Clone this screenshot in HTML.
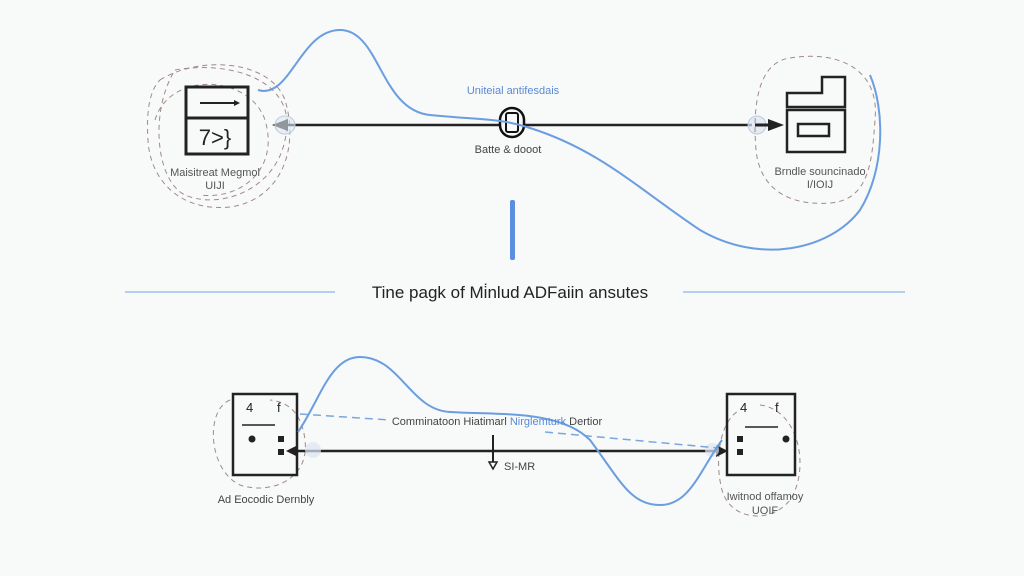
<!DOCTYPE html>
<html><head><meta charset="utf-8"><style>
html,body{margin:0;padding:0;background:#f8f9f9;}
svg{display:block;font-family:"Liberation Sans",sans-serif;}
</style></head><body>
<svg width="1024" height="576" viewBox="0 0 1024 576" xmlns="http://www.w3.org/2000/svg">
<rect width="1024" height="576" fill="#f8f9f9"/>
<!-- top left dashed loops -->
<g fill="none" stroke="#a08a88" stroke-width="1" stroke-dasharray="5,4">
<path d="M160,80 C200,55 270,60 285,100 C300,150 280,200 230,207 C180,212 150,180 148,140 C146,110 150,90 160,80Z"/>
<path d="M175,70 C230,60 300,80 285,140 C275,190 220,210 185,195 C155,180 150,110 175,70Z"/>
<path d="M155,120 C170,70 250,75 265,120 C280,170 240,200 200,195"/>
</g>
<!-- top left box -->
<rect x="186" y="87" width="62" height="67" fill="none" stroke="#222" stroke-width="3"/>
<line x1="186" y1="118" x2="248" y2="118" stroke="#222" stroke-width="3"/>
<line x1="200" y1="103" x2="238" y2="103" stroke="#222" stroke-width="2"/>
<path d="M234,100 L240,103 L234,106Z" fill="#222"/>
<text x="215" y="145" font-size="22" text-anchor="middle" fill="#222">7&gt;}</text>
<text x="215" y="176" font-size="11" text-anchor="middle" fill="#555">Maisitreat Megmol</text>
<text x="215" y="189" font-size="11" text-anchor="middle" fill="#555">UIJI</text>
<!-- top main line -->
<line x1="283" y1="125" x2="752" y2="125" stroke="#222" stroke-width="2.5"/>
<path d="M272,125 L288,119 L288,131Z" fill="#222"/>
<ellipse cx="285" cy="125" rx="10" ry="9" fill="#dde6f2" fill-opacity="0.6" stroke="#bcd" stroke-width="1"/>
<ellipse cx="757" cy="125" rx="9" ry="9" fill="#dde6f2" fill-opacity="0.7" stroke="#bcd" stroke-width="1"/>
<path d="M784,125 L768,119 L768,131Z" fill="#222"/>
<line x1="755" y1="125" x2="772" y2="125" stroke="#222" stroke-width="3"/>
<rect x="500" y="108" width="24" height="29" rx="12" fill="#f8f9f9" stroke="#111" stroke-width="2.5"/>
<rect x="506" y="113" width="12" height="19" rx="2" fill="none" stroke="#111" stroke-width="2"/>
<text x="513" y="94" font-size="11" text-anchor="middle" fill="#5a8ad6">Uniteial antifesdais</text>
<text x="508" y="153" font-size="11" text-anchor="middle" fill="#444">Batte &amp; dooot</text>
<!-- top right -->
<path d="M790,58 C840,50 880,70 875,120 C872,160 870,200 830,203 C790,206 760,190 756,150 C752,100 760,62 790,58Z" fill="none" stroke="#a08a88" stroke-width="1" stroke-dasharray="5,4"/>
<path d="M787,93 L822,93 L822,77 L845,77 L845,107 L787,107Z" fill="none" stroke="#222" stroke-width="2.5"/>
<rect x="787" y="110" width="58" height="42" fill="none" stroke="#222" stroke-width="2.5"/>
<rect x="798" y="124" width="31" height="12" fill="none" stroke="#222" stroke-width="2.5"/>
<text x="820" y="175" font-size="11" text-anchor="middle" fill="#555">Brndle souncinado</text>
<text x="820" y="188" font-size="11" text-anchor="middle" fill="#555">I/IOIJ</text>
<!-- top blue curve -->
<path d="M258,90 C290,100 300,30 340,30 C380,30 380,110 430,115 C480,120 500,118 530,128 C600,150 640,190 700,230 C760,265 830,250 860,210 C885,170 885,110 870,75" fill="none" stroke="#6a9ee0" stroke-width="2"/>
<rect x="510" y="200" width="5" height="60" rx="2" fill="#5a8ee0"/>
<!-- divider -->
<line x1="125" y1="292" x2="335" y2="292" stroke="#9cc0ea" stroke-width="1.5"/>
<line x1="683" y1="292" x2="905" y2="292" stroke="#9cc0ea" stroke-width="1.5"/>
<text x="510" y="298" font-size="17" text-anchor="middle" fill="#222">Tine pagk of Mi̇nlud ADFaiin ansutes</text>
<!-- bottom -->
<path d="M230,400 C205,410 208,470 240,485 C270,495 310,480 305,440 C302,415 290,402 270,400" fill="none" stroke="#a08a88" stroke-width="1" stroke-dasharray="5,4"/>
<path d="M760,405 C800,410 810,470 790,500 C770,525 730,520 722,490 C714,460 720,420 740,410" fill="none" stroke="#a08a88" stroke-width="1" stroke-dasharray="5,4"/>
<rect x="233" y="394" width="64" height="81" fill="none" stroke="#222" stroke-width="2.5"/>
<rect x="727" y="394" width="68" height="81" fill="none" stroke="#222" stroke-width="2.5"/>
<text x="246" y="412" font-size="13" fill="#222">4</text><text x="277" y="412" font-size="13" fill="#222">f</text>
<line x1="242" y1="425" x2="275" y2="425" stroke="#222" stroke-width="1.5"/>
<circle cx="252" cy="439" r="3.5" fill="#222"/><rect x="278" y="436" width="6" height="6" fill="#222"/><rect x="278" y="449" width="6" height="6" fill="#222"/>
<text x="740" y="412" font-size="13" fill="#222">4</text><text x="775" y="412" font-size="13" fill="#222">f</text>
<line x1="745" y1="427" x2="778" y2="427" stroke="#222" stroke-width="1.5"/>
<circle cx="786" cy="439" r="3.5" fill="#222"/><rect x="737" y="436" width="6" height="6" fill="#222"/><rect x="737" y="449" width="6" height="6" fill="#222"/>
<line x1="292" y1="451" x2="722" y2="451" stroke="#222" stroke-width="2.5"/>
<path d="M286,451 L298,445 L298,457Z" fill="#222"/>
<path d="M728,451 L716,445 L716,457Z" fill="#222"/>
<ellipse cx="313" cy="450" rx="8" ry="8" fill="#dde6f2" fill-opacity="0.7"/>
<ellipse cx="712" cy="450" rx="7" ry="7" fill="#dde6f2" fill-opacity="0.7"/>
<line x1="300" y1="414" x2="390" y2="420" stroke="#7aa6e0" stroke-width="1.5" stroke-dasharray="8,5"/>
<line x1="545" y1="432" x2="718" y2="448" stroke="#7aa6e0" stroke-width="1.5" stroke-dasharray="8,5"/>
<path d="M298,432 C320,400 330,357 360,357 C400,357 410,410 450,412 C500,415 560,410 590,440 C620,480 630,505 660,505 C690,505 700,470 722,440" fill="none" stroke="#6a9ee0" stroke-width="2"/>
<text x="497" y="425" font-size="11" text-anchor="middle" fill="#444">Comminatoon Hiatimarl <tspan fill="#5a8ad6">Nirglemturk</tspan> Dertior</text>
<line x1="493" y1="435" x2="493" y2="462" stroke="#222" stroke-width="2"/>
<path d="M489,462 L497,462 L493,469Z" fill="none" stroke="#222" stroke-width="1.5"/>
<text x="504" y="470" font-size="11" fill="#444">SI-MR</text>
<text x="266" y="503" font-size="11" text-anchor="middle" fill="#444">Ad Eocodic Dernbly</text>
<text x="765" y="500" font-size="11" text-anchor="middle" fill="#555">Iwitnod offamoy</text>
<text x="765" y="514" font-size="11" text-anchor="middle" fill="#555">UOIF</text>
</svg>
</body></html>
